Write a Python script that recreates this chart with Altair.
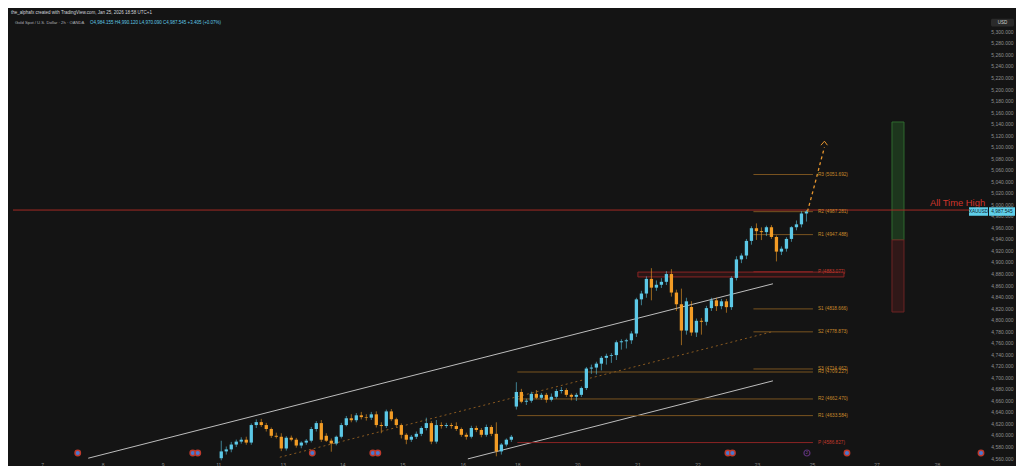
import json
import altair as alt
import pandas as pd

UP = "#5cc8e6"
DOWN = "#f39c25"
BG = "#141414"
FONT = "Liberation Sans"

# ---- 2h candles, Jan 12 .. Jan 23 (index 0..117) ----
opens = [4559.7, 4571.5, 4575.0, 4583.4, 4588.5, 4591.8, 4586.8, 4617.2, 4622.3, 4617.2,
         4610.4, 4598.6, 4596.9, 4576.6, 4595.2, 4591.8, 4581.7, 4586.8, 4590.1, 4610.4,
         4620.6, 4598.6, 4590.1, 4585.1, 4596.9, 4617.2, 4629.0, 4625.6, 4634.1, 4631.0,
         4630.0, 4635.8, 4617.2, 4615.5, 4640.9, 4627.3, 4617.2, 4600.3, 4591.8, 4596.9,
         4602.0, 4612.1, 4620.6, 4588.5, 4617.2, 4615.5, 4617.2, 4615.5, 4610.4, 4600.3,
         4596.9, 4612.1, 4608.7, 4600.3, 4613.8, 4602.0, 4571.5, 4583.4, 4591.8,
         4649.3, 4674.6, 4657.7, 4659.4, 4671.3, 4664.5, 4669.6, 4661.1, 4666.2, 4676.3,
         4678.0, 4669.6, 4666.2, 4669.6, 4681.4, 4715.2, 4716.9, 4723.7, 4733.8, 4737.2,
         4738.5, 4760.8, 4762.5, 4764.2, 4776.0, 4835.2, 4845.3, 4870.7, 4855.5, 4860.5,
         4865.6, 4879.1, 4847.0, 4826.7, 4781.1, 4822.0, 4777.7, 4798.0, 4796.3, 4820.0,
         4833.5, 4823.4, 4831.8, 4821.7, 4872.4, 4904.5, 4911.2, 4936.6, 4958.6, 4953.5,
         4951.8, 4960.3, 4943.4, 4918.0, 4923.1, 4940.0, 4960.3, 4965.3, 4984.155]
highs = [4590.0, 4580.0, 4588.0, 4592.0, 4596.0, 4597.0, 4620.0, 4627.0, 4628.0, 4621.0,
         4613.0, 4604.0, 4603.0, 4598.0, 4599.0, 4595.0, 4589.0, 4593.0, 4614.0, 4624.0,
         4626.0, 4603.0, 4594.0, 4599.0, 4621.0, 4633.0, 4636.0, 4638.0, 4640.0, 4636.0,
         4640.0, 4641.0, 4622.0, 4644.0, 4645.0, 4630.0, 4620.0, 4603.0, 4600.0, 4606.0,
         4615.0, 4630.0, 4624.0, 4626.0, 4622.0, 4621.0, 4621.0, 4622.0, 4613.0, 4604.0,
         4616.0, 4616.0, 4612.0, 4618.0, 4617.0, 4622.0, 4586.0, 4594.0, 4600.0,
         4691.5, 4680.0, 4663.0, 4675.0, 4678.0, 4673.0, 4673.0, 4672.0, 4680.0, 4683.0,
         4681.0, 4672.0, 4673.0, 4684.0, 4718.0, 4722.0, 4727.0, 4737.0, 4741.0, 4742.0,
         4764.0, 4766.0, 4767.0, 4780.0, 4838.0, 4850.0, 4875.0, 4889.3, 4868.0, 4872.0,
         4884.0, 4887.6, 4852.0, 4853.8, 4838.0, 4832.0, 4802.0, 4803.0, 4824.0, 4838.0,
         4838.0, 4836.0, 4836.0, 4875.0, 4910.0, 4915.0, 4940.0, 4962.0, 4967.0, 4960.0,
         4963.0, 4964.0, 4946.0, 4927.0, 4943.0, 4962.0, 4972.0, 4988.0, 4990.12]
lows = [4556.0, 4566.0, 4570.0, 4579.0, 4585.0, 4583.0, 4583.0, 4612.0, 4614.0, 4606.0,
        4595.0, 4594.0, 4572.0, 4573.0, 4589.0, 4578.0, 4577.0, 4583.0, 4587.0, 4606.0,
        4588.0, 4588.0, 4571.0, 4582.0, 4594.0, 4615.0, 4622.0, 4622.0, 4627.0, 4625.0,
        4626.0, 4613.0, 4603.0, 4612.0, 4624.0, 4614.0, 4594.0, 4584.0, 4588.0, 4593.0,
        4598.0, 4608.0, 4584.0, 4585.0, 4611.0, 4612.0, 4611.0, 4607.0, 4597.0, 4592.0,
        4594.0, 4605.0, 4596.0, 4597.0, 4598.0, 4563.0, 4566.0, 4580.0, 4588.0,
        4644.2, 4655.0, 4652.0, 4656.0, 4662.0, 4661.0, 4656.0, 4658.0, 4663.0, 4672.0,
        4666.0, 4660.0, 4659.0, 4666.0, 4678.0, 4706.0, 4705.0, 4712.0, 4722.0, 4725.0,
        4730.0, 4748.0, 4750.0, 4758.0, 4770.0, 4825.0, 4838.0, 4833.5, 4850.0, 4855.0,
        4860.0, 4840.0, 4815.0, 4755.8, 4774.0, 4772.0, 4770.0, 4774.0, 4790.0, 4815.0,
        4815.0, 4818.0, 4812.0, 4817.0, 4868.0, 4898.0, 4905.0, 4930.0, 4938.3, 4938.0,
        4945.0, 4940.0, 4901.0, 4912.0, 4918.0, 4935.0, 4955.0, 4960.0, 4970.09]
closes = [4571.5, 4575.0, 4583.4, 4588.5, 4591.8, 4586.8, 4617.2, 4622.3, 4617.2, 4610.4,
          4598.6, 4596.9, 4576.6, 4595.2, 4591.8, 4581.7, 4586.8, 4590.1, 4610.4, 4620.6,
          4591.8, 4590.1, 4585.1, 4596.9, 4617.2, 4629.0, 4625.6, 4634.1, 4631.0, 4630.0,
          4635.8, 4617.2, 4615.5, 4640.9, 4627.3, 4617.2, 4600.3, 4591.8, 4596.9, 4602.0,
          4612.1, 4620.6, 4588.5, 4617.2, 4615.5, 4617.2, 4615.5, 4610.4, 4600.3, 4596.9,
          4612.1, 4608.7, 4600.3, 4613.8, 4602.0, 4571.5, 4583.4, 4591.8, 4596.9,
          4674.6, 4657.7, 4659.4, 4671.3, 4664.5, 4669.6, 4661.1, 4666.2, 4676.3, 4678.0,
          4669.6, 4666.2, 4669.6, 4681.4, 4715.2, 4716.9, 4723.7, 4733.8, 4737.2, 4738.5,
          4760.8, 4762.5, 4764.2, 4776.0, 4835.2, 4845.3, 4870.7, 4855.5, 4860.5, 4865.6,
          4879.1, 4847.0, 4826.7, 4781.1, 4831.8, 4777.7, 4798.0, 4796.3, 4820.0, 4833.5,
          4823.4, 4831.8, 4821.7, 4872.4, 4904.5, 4911.2, 4936.6, 4958.6, 4953.5, 4951.8,
          4960.3, 4943.4, 4918.0, 4923.1, 4940.0, 4960.3, 4965.3, 4984.14, 4987.545]

# time axis (bar index of each day label)
day_labels = ["7", "8", "9", "11", "13", "14", "15", "16", "18", "20", "21", "22", "23", "25", "27", "28"]
day_index = [-35.8, -23.7, -11.7, -0.6, 12.3, 24.2, 36.2, 48.3, 59.2, 71.2, 83.2, 95.2, 107.1, 118.1, 131.0, 143.1]
x_domain = [-41.64, 152.5]
price_ticks = list(range(4560, 5301, 20))
y_domain = [4546.2, 5340.5]

# Fibonacci pivots: week (A) and day (B)
pivA_names = ["R3", "R2", "R1", "P"]
pivA_vals = [4709.227, 4662.470, 4633.584, 4586.827]
pivA_span = [59.2, 118.3]
pivB_names = ["R3", "R2", "R1", "P", "S1", "S2", "S3"]
pivB_vals = [5051.692, 4987.281, 4947.488, 4883.077, 4818.666, 4778.873, 4714.462]
pivB_span = [106.4, 118.3]
piv_label_at = 119.3

# drawings
upper_k = [-26.6, 110.3]; upper_p = [4559.7, 4862.2]
lower_k = [49.3, 110.3]; lower_p = [4558.5, 4693.9]
mid_k = [11.7, 110.3]; mid_p = [4561.4, 4779.4]
proj_k = [117.2, 118.7, 119.8, 120.6]; proj_p = [4987.5, 5036.0, 5073.0, 5099.0]
arrow_k = [119.9, 120.6, 121.2]; arrow_p = [5102.5, 5109.5, 5102.5]
ath_price = 4990.1
zone_k = [83.3, 124.5]; zone_p = [4874.1, 4882.5]
pos_k = [134.1, 136.5]; pos_tp = 5142.8; pos_entry = 4938.3; pos_sl = 4813.3
ath_text_k = 147.2; ath_text_p = 4997.0
flag_k = [-28.7, -5.7, -4.7, 18.2, 30.3, 31.3, 101.3, 102.2, 125.1, 151.9]
event_k = [117.1]

xscale = alt.Scale(domain=x_domain, nice=False, zero=False)
yscale = alt.Scale(domain=y_domain, nice=False, zero=False)
label_expr = "%s[indexof(%s, datum.value)]" % (json.dumps(day_labels), json.dumps(day_index))
xaxis = alt.Axis(values=day_index, labelExpr=label_expr, orient="bottom", domain=False, ticks=False,
                 tickSize=0, grid=False, labelColor="#8a8a8a", labelFontSize=5, labelFont=FONT,
                 labelPadding=1, offset=-5, labelFlush=False, labelOverlap=False, title=None)
yaxis = alt.Axis(values=price_ticks, format=",.3f", orient="right", domain=False, ticks=False,
                 tickSize=0, grid=False, labelAlign="right", labelBaseline="middle", labelPadding=24,
                 labelFontSize=5, labelFont=FONT, labelColor="#8f8f8f", labelOverlap=False, title=None)


def X(f):
    return alt.X(f"{f}:Q", scale=xscale, axis=xaxis, title=None)


def Y(f):
    return alt.Y(f"{f}:Q", scale=yscale, axis=yaxis, title=None)


candles = pd.DataFrame({"k": list(range(len(opens))), "o": opens, "h": highs, "l": lows, "c": closes})
color = alt.condition("datum.c >= datum.o", alt.value(UP), alt.value(DOWN))

wicks = alt.Chart(candles).mark_rule(strokeWidth=1, opacity=0.6).encode(
    x=X("k"), y=Y("l"), y2="h", color=color)
bodies = alt.Chart(candles).mark_bar(width=3.3).encode(
    x=X("k"), y=Y("o"), y2="c", color=color)

# pivots
rowsA = [{"n": n, "v": v, "x1": pivA_span[0], "x2": pivA_span[1], "lx": piv_label_at,
          "t": f"{n} ({v:.3f})", "col": "#8b2424" if n == "P" else "#7a5420",
          "tc": "#c0392b" if n == "P" else "#c98a2b"} for n, v in zip(pivA_names, pivA_vals)]
rowsB = [{"n": n, "v": v, "x1": pivB_span[0], "x2": pivB_span[1], "lx": piv_label_at,
          "t": f"{n} ({v:.3f})", "col": "#8b2424" if n == "P" else "#7a5420",
          "tc": "#c0392b" if n == "P" else "#c98a2b"} for n, v in zip(pivB_names, pivB_vals)]
piv = pd.DataFrame(rowsA + rowsB)
piv_lines = alt.Chart(piv).mark_rule(strokeWidth=1).encode(
    x=X("x1"), x2="x2", y=Y("v"), color=alt.Color("col:N", scale=None))
piv_text = alt.Chart(piv).mark_text(align="left", baseline="middle", fontSize=4.7, font=FONT).encode(
    x=X("lx"), y=Y("v"), text="t:N", color=alt.Color("tc:N", scale=None))

# resistance zone
zone = alt.Chart(pd.DataFrame({"x1": [zone_k[0]], "x2": [zone_k[1]], "y1": [zone_p[0]], "y2": [zone_p[1]]})).mark_rect(
    fill="#8b2424", fillOpacity=0.18, stroke="#8b2424", strokeWidth=1).encode(
    x=X("x1"), x2="x2", y=Y("y1"), y2="y2")

# channel lines
def seg(ks, ps, **kw):
    return alt.Chart(pd.DataFrame({"k": ks, "p": ps})).mark_line(**kw).encode(x=X("k"), y=Y("p"))

upper = seg(upper_k, upper_p, color="#bdbdbd", strokeWidth=1)
lower = seg(lower_k, lower_p, color="#bdbdbd", strokeWidth=1)
mid = seg(mid_k, mid_p, color="#8a5a20", strokeWidth=1, strokeDash=[2, 3])
proj = seg(proj_k, proj_p, color="#e8962e", strokeWidth=1.3, strokeDash=[3, 3], interpolate="monotone")
arrow = seg(arrow_k, arrow_p, color="#e8962e", strokeWidth=1)

# all time high line
ath = alt.Chart(pd.DataFrame({"x1": [x_domain[0]], "x2": [x_domain[1]], "v": [ath_price]})).mark_rule(
    color="#a32a24", strokeWidth=1).encode(x=X("x1"), x2="x2", y=Y("v"))
ath_text = alt.Chart(pd.DataFrame({"k": [ath_text_k], "p": [ath_text_p], "t": ["All Time High"]})).mark_text(
    color="#d0342c", fontSize=9.4, font=FONT, align="center", baseline="alphabetic").encode(
    x=X("k"), y=Y("p"), text="t:N")

# long position tool
pos = pd.DataFrame({"x1": [pos_k[0], pos_k[0]], "x2": [pos_k[1], pos_k[1]],
                    "y1": [pos_tp, pos_entry], "y2": [pos_entry, pos_sl],
                    "f": ["#1d361d", "#301818"], "s": ["#2f6a2f", "#6e2424"]})
pos_box = alt.Chart(pos).mark_rect(strokeWidth=1).encode(
    x=X("x1"), x2="x2", y=Y("y1"), y2="y2",
    fill=alt.Fill("f:N", scale=None), stroke=alt.Stroke("s:N", scale=None))

# event flags
flags = alt.Chart(pd.DataFrame({"k": flag_k})).mark_point(
    filled=True, size=30, fill="#4a78d0", stroke="#c0392b", strokeWidth=1.4, opacity=1).encode(
    x=X("k"), y=alt.value(445))
events = alt.Chart(pd.DataFrame({"k": event_k})).mark_point(
    filled=False, size=36, stroke="#7b3fa0", strokeWidth=1.2).encode(x=X("k"), y=alt.value(445))
events_t = alt.Chart(pd.DataFrame({"k": event_k, "t": ["2"]})).mark_text(
    fontSize=4, color="#9b59b6", font=FONT, baseline="middle").encode(x=X("k"), y=alt.value(445), text="t:N")

# last price label on the price scale
last = pd.DataFrame({"v": [closes[-1]], "t": [f"{closes[-1]:,.3f}"], "s": ["XAUUSD"]})
sym_box = alt.Chart(last).mark_rect(height=8.5, color="#5fd0ea").encode(
    x=alt.value(961), x2=alt.value(980), y=Y("v"))
px_box = alt.Chart(last).mark_rect(height=8.5, color="#5fd0ea").encode(
    x=alt.value(981), x2=alt.value(1007), y=Y("v"))
sym_txt = alt.Chart(last).mark_text(fontSize=4.6, font=FONT, color="#10202a", baseline="middle").encode(
    x=alt.value(970.5), y=Y("v"), text="s:N")
px_txt = alt.Chart(last).mark_text(fontSize=4.8, font=FONT, color="#10202a", baseline="middle").encode(
    x=alt.value(994), y=Y("v"), text="t:N")

# currency badge
usd = pd.DataFrame({"t": ["USD"]})
usd_box = alt.Chart(usd).mark_rect(color="#2a2a2a", cornerRadius=1.5).encode(
    x=alt.value(983), x2=alt.value(1006), y=alt.value(10.7), y2=alt.value(18.5))
usd_txt = alt.Chart(usd).mark_text(fontSize=4.5, font=FONT, color="#d0d0d0", baseline="middle").encode(
    x=alt.value(994.5), y=alt.value(14.6), text="t:N")

# header lines
chg = closes[-1] - closes[-2]
hdr1 = "the_alphafx created with TradingView.com, Jan 25, 2026 18:58 UTC+1"
hdr2a = "Gold Spot / U.S. Dollar · 2h · OANDA"
hdr2b = (f"O{opens[-1]:,.3f}   H{highs[-1]:,.3f}   L{lows[-1]:,.3f}   C{closes[-1]:,.3f}   "
         f"{chg:+.3f} ({chg / closes[-2] * 100:+.2f}%)")
h = pd.DataFrame({"a": [hdr1], "b": [hdr2a], "c": [hdr2b]})
h1 = alt.Chart(h).mark_text(align="left", baseline="middle", fontSize=4.5, font=FONT, color="#d1d4dc").encode(
    x=alt.value(3), y=alt.value(5), text="a:N")
h2 = alt.Chart(h).mark_text(align="left", baseline="middle", fontSize=4.2, font=FONT, color="#aeb1b8").encode(
    x=alt.value(7), y=alt.value(14.6), text="b:N")
h3 = alt.Chart(h).mark_text(align="left", baseline="middle", fontSize=4.5, font=FONT, color="#5fc8e4").encode(
    x=alt.value(82), y=alt.value(14.6), text="c:N")

chart = alt.layer(
    zone, pos_box, upper, lower, mid, piv_lines, ath, wicks, bodies, proj, arrow,
    piv_text, ath_text, flags, events, events_t, sym_box, px_box, sym_txt, px_txt,
    usd_box, usd_txt, h1, h2, h3
).properties(
    width=981, height=458, autosize="none",
    padding={"left": 0, "top": 0, "right": 27, "bottom": 0},
    background=BG,
).configure_view(stroke=None)

chart.save("out.html", embed_options={"renderer": "svg", "actions": False})
